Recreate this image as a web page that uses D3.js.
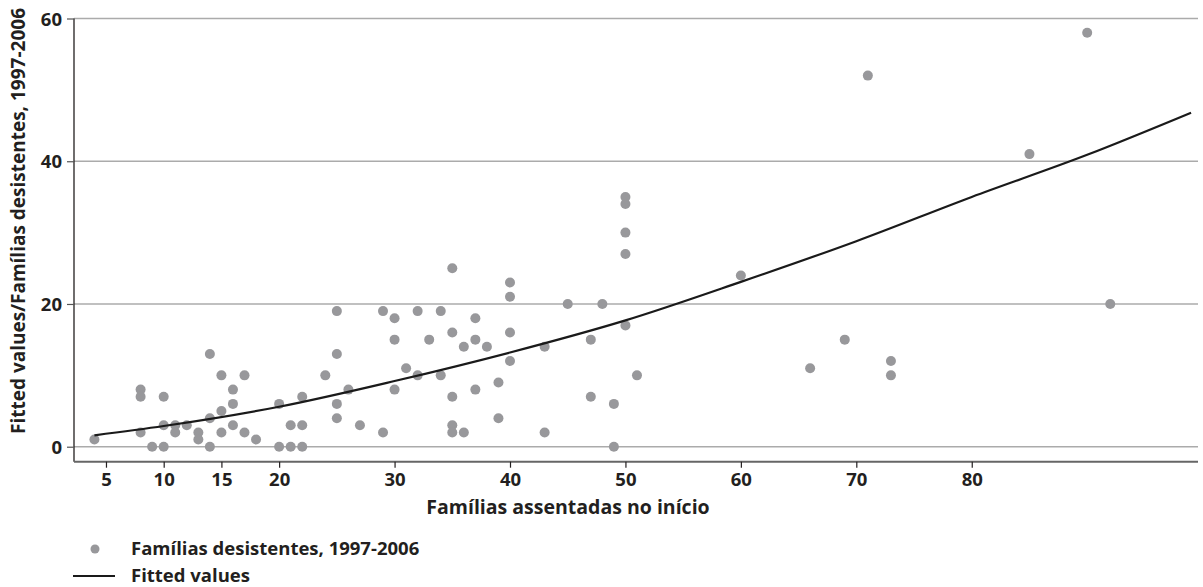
<!DOCTYPE html>
<html>
<head>
<meta charset="utf-8">
<script src="https://cdn.jsdelivr.net/npm/d3@7"></script>
<style>
  body { margin: 0; background: #fff; }
  text { font-family: "Open Sans", "Noto Sans", sans-serif; font-weight: 700; fill: #231f20; }
</style>
</head>
<body>
<svg id="chart" width="1203" height="587"></svg>
<script>
// Families settled at the start of each settlement (x) and families that gave up, 1997-2006 (y)
const assentadas = [4, 8, 8, 8, 9, 10, 10, 10, 11, 11, 12, 13, 13, 14, 14, 14, 15, 15, 15, 16, 16, 16, 17, 17, 18,
  20, 20, 21, 21, 22, 22, 22, 24, 25, 25, 25, 25, 26, 27, 29, 29, 30, 30, 30, 31, 32, 32, 33, 34, 34,
  35, 35, 35, 35, 35, 36, 36, 37, 37, 37, 38, 39, 39, 40, 40, 40, 40, 43, 43, 45, 47, 47, 48, 49, 49,
  50, 50, 50, 50, 50, 51, 60, 66, 69, 71, 73, 73, 85, 90, 92];
const desistentes = [1, 8, 7, 2, 0, 7, 3, 0, 3, 2, 3, 2, 1, 13, 4, 0, 10, 5, 2, 8, 6, 3, 10, 2, 1,
  6, 0, 3, 0, 7, 3, 0, 10, 19, 13, 6, 4, 8, 3, 19, 2, 18, 15, 8, 11, 19, 10, 15, 19, 10,
  25, 16, 7, 3, 2, 14, 2, 18, 15, 8, 14, 9, 4, 23, 21, 16, 12, 14, 2, 20, 15, 7, 20, 6, 0,
  35, 34, 30, 27, 17, 10, 24, 11, 15, 52, 12, 10, 41, 58, 20];

// Fitted values curve
const fitX = [4, 10, 20, 30, 40, 50, 60, 70, 80, 90, 99];
const fitY = [1.6, 2.9, 5.6, 9.2, 13.2, 17.7, 23.1, 28.8, 35.0, 40.9, 46.8];

const xTicks = [5, 10, 15, 20, 30, 40, 50, 60, 70, 80];
const yTicks = [0, 20, 40, 60];

const xTitle = "Famílias assentadas no início";
const yTitle = "Fitted values/Famílias desistentes, 1997-2006";
const legendLabels = ["Famílias desistentes, 1997-2006", "Fitted values"];

const svg = d3.select("#chart");
const plot = { left: 74, right: 1198, top: 18.5, bottom: 461.7 };
const fontSize = 18.5;

const x = d3.scaleLinear().domain([2.23, 99.6]).range([plot.left, plot.right]);
const y = d3.scaleLinear().domain([-2.1, 60]).range([plot.bottom, plot.top]);

const dotColor = "#98989b";

// horizontal grid
svg.append("g")
  .selectAll("line")
  .data(yTicks)
  .join("line")
  .attr("x1", plot.left).attr("x2", plot.right)
  .attr("y1", d => y(d)).attr("y2", d => y(d))
  .attr("stroke", "#ababab").attr("stroke-width", 1.5);

// y axis
const yAxis = svg.append("g")
  .attr("transform", `translate(${plot.left},0)`)
  .call(d3.axisLeft(y).tickValues(yTicks).tickSize(7).tickPadding(5).tickFormat(d3.format("d")));
yAxis.select(".domain").attr("d", `M0,${plot.top}V${plot.bottom}`).attr("stroke", "#231f20").attr("stroke-width", 1.3);
yAxis.selectAll(".tick line").attr("stroke", "#555").attr("stroke-width", 1.2);
yAxis.selectAll(".tick text").attr("font-size", fontSize).attr("fill", "#231f20").attr("dy", "0.36em");

// x axis
const xAxis = svg.append("g")
  .attr("transform", `translate(0,${plot.bottom})`)
  .call(d3.axisBottom(x).tickValues(xTicks).tickSize(6).tickPadding(5.5).tickFormat(d3.format("d")));
xAxis.select(".domain").attr("d", `M${plot.left},0H${plot.right}`).attr("stroke", "#666").attr("stroke-width", 2);
xAxis.selectAll(".tick line").attr("stroke", "#231f20").attr("stroke-width", 1.2);
xAxis.selectAll(".tick text").attr("font-size", fontSize).attr("fill", "#231f20");

// scatter points
const pts = assentadas.map((a, i) => ({ a, d: desistentes[i] }));
svg.append("g")
  .selectAll("circle")
  .data(pts)
  .join("circle")
  .attr("cx", p => x(p.a))
  .attr("cy", p => y(p.d))
  .attr("r", 5)
  .attr("fill", dotColor);

// fitted curve
const fitPts = fitX.map((v, i) => [v, fitY[i]]);
svg.append("path")
  .datum(fitPts)
  .attr("fill", "none")
  .attr("stroke", "#1a1a1a")
  .attr("stroke-width", 2.2)
  .attr("d", d3.line().x(d => x(d[0])).y(d => y(d[1])).curve(d3.curveMonotoneX));

// axis titles
svg.append("text")
  .attr("x", 568).attr("y", 514)
  .attr("text-anchor", "middle")
  .attr("font-size", 19.5)
  .text(xTitle);

svg.append("text")
  .attr("transform", "translate(25,221) rotate(-90)")
  .attr("text-anchor", "middle")
  .attr("font-size", 19)
  .text(yTitle);

// legend
const lg = svg.append("g");
lg.append("circle").attr("cx", 95).attr("cy", 549).attr("r", 4.5).attr("fill", dotColor);
lg.append("text").attr("x", 131).attr("y", 555).attr("font-size", fontSize).text(legendLabels[0]);
lg.append("line").attr("x1", 73).attr("x2", 115).attr("y1", 576).attr("y2", 576)
  .attr("stroke", "#1a1a1a").attr("stroke-width", 2.2);
lg.append("text").attr("x", 131).attr("y", 582).attr("font-size", fontSize).text(legendLabels[1]);
</script>
</body>
</html>
